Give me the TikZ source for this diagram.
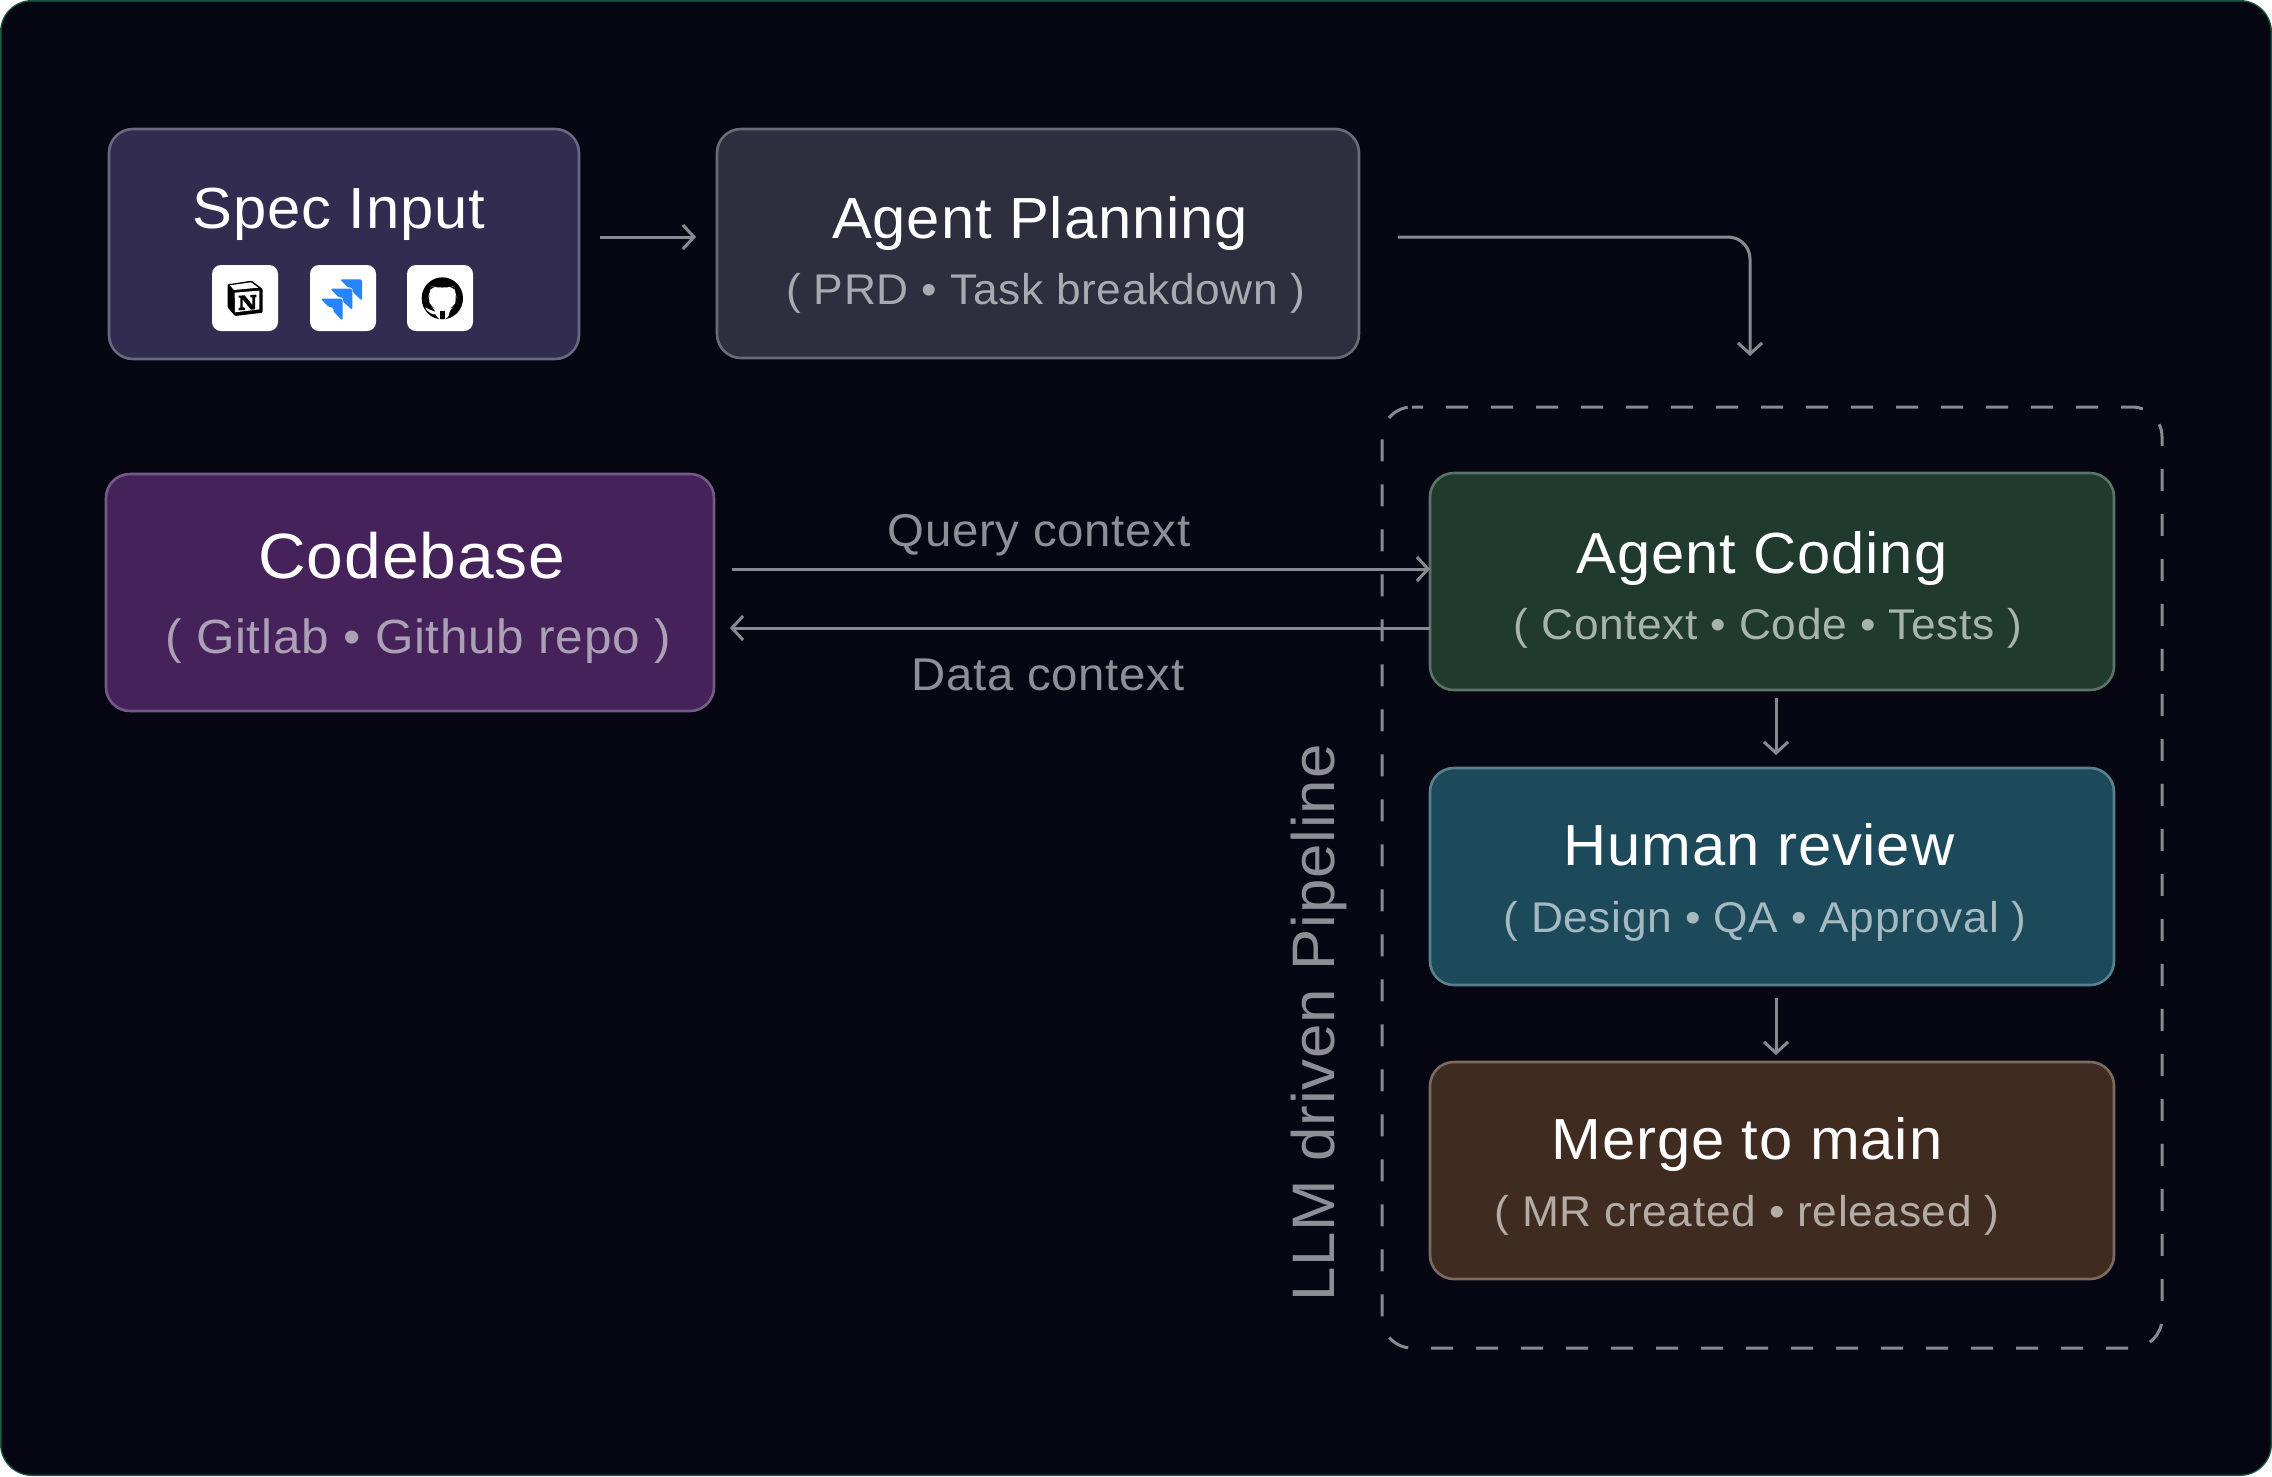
\documentclass[tikz,border=0pt]{standalone}
\usepackage{fontspec}
\setmainfont{Liberation Sans}[LetterSpace=1.5,FakeStretch=1.03]
\usetikzlibrary{arrows.meta}
\definecolor{bgc}{HTML}{060712}
\definecolor{edgec}{HTML}{1A5A45}
\definecolor{arrc}{HTML}{8A898F}
\definecolor{lblc}{HTML}{8F8E96}
\definecolor{specf}{HTML}{322D50}
\definecolor{specd}{HTML}{6A6780}
\definecolor{planf}{HTML}{2F2E3E}
\definecolor{pland}{HTML}{6B6A75}
\definecolor{codef}{HTML}{45235A}
\definecolor{coded}{HTML}{765A86}
\definecolor{agentf}{HTML}{203B2D}
\definecolor{agentd}{HTML}{5A7565}
\definecolor{humanf}{HTML}{1C4A5B}
\definecolor{humand}{HTML}{5A808E}
\definecolor{mergef}{HTML}{3F2B20}
\definecolor{merged}{HTML}{7A6A5F}
\definecolor{planst}{HTML}{A9A9B0}
\definecolor{codest}{HTML}{ACA0B6}
\definecolor{agentst}{HTML}{A6B4AB}
\definecolor{humanst}{HTML}{A4B9C1}
\definecolor{mergest}{HTML}{B3ABA6}
\definecolor{jira}{HTML}{2684FF}
\tikzset{
  x=1pt,y=-1pt,
  box/.style 2 args={rounded corners=24pt,line width=2.6pt,inner sep=0pt,outer sep=0pt,draw=#1,fill=#2},
  title/.style={text=white,anchor=base,inner sep=0pt,font=\fontsize{#1}{#1}\selectfont},
  subt/.style 2 args={text=#1,anchor=base,inner sep=0pt,font=\fontsize{#2}{#2}\selectfont},
  arr/.style={draw=arrc,line width=3pt,-{Straight Barb[length=11pt,width=24pt,line width=3pt]}},
  icon/.style={fill=white,rounded corners=9pt,inner sep=0pt,outer sep=0pt,minimum width=66pt,minimum height=66pt}
}
\begin{document}
\begin{tikzpicture}
\useasboundingbox (0,0) rectangle (2272,1476);
\fill[edgec,rounded corners=32pt] (0,0) rectangle (2272,1476);
\fill[bgc,rounded corners=30pt] (1.5,1.5) rectangle (2270.5,1474.5);
% dashed frame
\draw[draw=arrc,line width=3pt,dash pattern=on 22pt off 23pt,dash phase=11pt,rounded corners=30pt]
  (1412,407) -- (2162,407) -- (2162,1348) -- (1382,1348) -- (1382,407) -- (1412,407);
% boxes
\node[box={specd}{specf},minimum width=470pt,minimum height=230pt] (spec) at (344,244) {};
\node[box={pland}{planf},minimum width=642pt,minimum height=229pt] (plan) at (1038,243.5) {};
\node[box={coded}{codef},minimum width=608pt,minimum height=237pt] (codebase) at (410,592.5) {};
\node[box={agentd}{agentf},minimum width=684pt,minimum height=217pt] (coding) at (1772,581.5) {};
\node[box={humand}{humanf},minimum width=684pt,minimum height=217pt] (human) at (1772,876.5) {};
\node[box={merged}{mergef},minimum width=684pt,minimum height=217pt] (merge) at (1772,1170.5) {};
% titles
\node[title=58] (tspec) at (339,228) {Spec Input};
\node[title=58] (tplan) at (1040,238) {Agent Planning};
\node[subt={planst}{43}] (splan) at (1046,304) {( PRD • Task breakdown )};
\node[title=64] (tcode) at (412,578) {Codebase};
\node[subt={codest}{48}] (scode) at (418,653) {( Gitlab • Github repo )};
\node[title=58] (tcoding) at (1762,573) {Agent Coding};
\node[subt={agentst}{43}] (scoding) at (1768,639) {( Context • Code • Tests )};
\node[title=58] (thuman) at (1759,865) {Human review};
\node[subt={humanst}{43}] (shuman) at (1765,932) {( Design • QA • Approval )};
\node[title=58] (tmerge) at (1747,1159) {Merge to main};
\node[subt={mergest}{43}] (smerge) at (1747,1226) {( MR created • released )};
% labels
\node[subt={lblc}{46}] (lquery) at (1039,546) {Query context};
\node[subt={lblc}{46}] (ldata) at (1048,690) {Data context};
\node[subt={lblc}{60},rotate=90] (lpipe) at (1334,1023) {LLM driven Pipeline};
% connectors
\coordinate (a1) at ([xshift=21pt,yshift=7pt]spec.east);
\coordinate (a2) at ([xshift=-21pt,yshift=6.5pt]plan.west);
\draw[arr] (a1) -- (a2);
\coordinate (b1) at ([xshift=39pt,yshift=6.5pt]plan.east);
\coordinate (b2) at (1750,356);
\draw[arr,rounded corners=22pt] (b1) -| (b2);
\coordinate (c1) at ([xshift=18pt,yshift=23.5pt]codebase.east);
\draw[arr] (c1) -- (coding.west |- c1);
\coordinate (d2) at ([xshift=16pt,yshift=-35.5pt]codebase.east);
\draw[arr] (coding.west |- d2) -- (d2);
\coordinate (e1) at ([xshift=4pt,yshift=-8pt]coding.south);
\coordinate (e2) at ([xshift=4pt,yshift=13pt]human.north);
\draw[arr] (e1) -- (e2);
\coordinate (f1) at ([xshift=4pt,yshift=-13pt]human.south);
\coordinate (f2) at ([xshift=4pt,yshift=7pt]merge.north);
\draw[arr] (f1) -- (f2);
% icons
\node[icon] (inotion) at (245,298) {};
\node[icon] (ijira) at (343,298) {};
\node[icon] (igit) at (440,298) {};
\begin{scope}[shift={(190,250)},x=0.33333pt,y=-0.33333pt]
  % notion
  \fill[black,rounded corners=1pt] (113,103) -- (185,92) -- (218,117) -- (218,188) -- (135,198) -- (113,172) -- cycle;
  \fill[white] (120,106) -- (183,97) -- (205,113) -- (132,120) -- cycle;
  \fill[white] (134,128) -- (208,122) -- (208,178) -- (135,187) -- cycle;
  \fill[black] (146,137) -- (164,136) -- (187,165) -- (187,142) -- (181,142) -- (181,135) -- (199,134) -- (199,141) -- (195,142) -- (195,178) -- (183,179) -- (158,148) -- (158,172) -- (165,173) -- (165,180) -- (146,181) -- (146,174) -- (151,173) -- (151,143) -- (146,143) -- cycle;
  % jira
  \fill[jira,rounded corners=1.5pt] (450,88) -- (516,88) -- (516,152) -- (488,126) -- (488,113) -- (475,113) -- cycle;
  \fill[jira,rounded corners=1.5pt] (421,116) -- (487,116) -- (487,180) -- (459,155) -- (459,142) -- (446,142) -- cycle;
  \fill[jira,rounded corners=1.5pt] (392,146) -- (458,146) -- (458,212) -- (430,184) -- (430,172) -- (417,172) -- cycle;
  % github
  \fill[black] (757,145) ellipse (62 and 63);
  \fill[white,rounded corners=6pt] (722,108) -- (737,114) -- (757,112) -- (777,114) -- (793,108) -- (795,130) -- (801,145) -- (790,172) -- (775,180) -- (778,208) -- (737,208) -- (740,180) -- (725,172) -- (713,145) -- (720,130) -- cycle;
  \fill[black] (749,183) rectangle (765,208);
  \fill[white] (706,172) -- (722,180) -- (738,186) -- (738,194) -- (722,190) -- (710,180) -- cycle;
\end{scope}
\end{tikzpicture}
\end{document}
